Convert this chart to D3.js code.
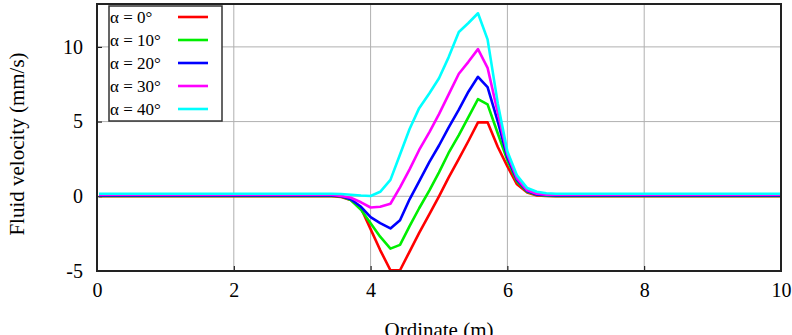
<!DOCTYPE html>
<html><head><meta charset="utf-8">
<script src="https://cdn.jsdelivr.net/npm/d3@7"></script>
<style>
body{margin:0;background:#fff}
svg{display:block}
svg text{font-family:"Liberation Serif","Times New Roman","DejaVu Serif",serif !important;fill:#000}
</style>
</head><body>
<script>
const xs = [0.03, 3.43, 3.57, 3.71, 3.86, 4.0, 4.14, 4.29, 4.43, 4.57, 4.71, 4.86, 5.0, 5.14, 5.29, 5.43, 5.57, 5.71, 5.86, 6.0, 6.14, 6.29, 6.43, 6.57, 6.71, 10.0];
const red     = [0, 0, -0.05, -0.25, -0.8, -2.2, -3.6, -4.95, -4.95, -3.7, -2.45, -1.2, 0.0, 1.25, 2.5, 3.7, 4.95, 4.95, 3.3, 2.0, 0.8, 0.25, 0.06, 0.02, 0, 0];
const green   = [0.03, 0.03, 0.0, -0.25, -0.9, -1.8, -2.7, -3.5, -3.25, -2.0, -0.8, 0.4, 1.6, 2.9, 4.1, 5.3, 6.5, 6.15, 4.2, 2.4, 1.0, 0.3, 0.1, 0.04, 0.03, 0.03];
const blue    = [0.06, 0.06, 0.0, -0.2, -0.7, -1.4, -1.8, -2.15, -1.6, -0.2, 1.0, 2.3, 3.4, 4.6, 5.8, 7.0, 8.0, 7.3, 5.0, 2.6, 1.1, 0.35, 0.12, 0.07, 0.06, 0.06];
const magenta = [0.1, 0.1, 0.02, -0.1, -0.4, -0.75, -0.7, -0.5, 0.6, 1.8, 3.1, 4.3, 5.5, 6.8, 8.2, 9.0, 9.85, 8.6, 5.6, 2.8, 1.2, 0.4, 0.17, 0.11, 0.1, 0.1];
const cyan    = [0.17, 0.17, 0.15, 0.1, 0.05, 0.02, 0.3, 1.1, 2.8, 4.5, 5.9, 6.9, 7.9, 9.3, 11.0, 11.6, 12.25, 10.5, 6.2, 3.0, 1.4, 0.55, 0.3, 0.2, 0.17, 0.17];
const seriesNames = ["α = 0°", "α = 10°", "α = 20°", "α = 30°", "α = 40°"];
const seriesColors = ["#ff0000", "#00ee00", "#0000ff", "#ff00ff", "#00ffff"];
const xTicks = [0, 2, 4, 6, 8, 10];
const yTicks = [-5, 0, 5, 10];
const xTitle = "Ordinate (m)";
const yTitle = "Fluid velocity (mm/s)";

const W = 792, H = 335;
const m = {left: 97, right: 11, top: 4, bottom: 64};
const FONT = "Liberation Serif, Times New Roman, DejaVu Serif, serif";
const svg = d3.select("body").append("svg").attr("width", W).attr("height", H)
  .attr("font-family", FONT);
const x = d3.scaleLinear().domain([0, 10]).range([m.left, W - m.right]);
const y = d3.scaleLinear().domain([-5, 12.87]).range([H - m.bottom, m.top]);

// grid
svg.append("g").selectAll("line").data(xTicks.slice(1, -1)).join("line")
  .attr("x1", d => x(d)).attr("x2", d => x(d)).attr("y1", y.range()[0]).attr("y2", y.range()[1])
  .attr("stroke", "#b0b0b0").attr("stroke-width", 1);
svg.append("g").selectAll("line").data(yTicks.slice(1)).join("line")
  .attr("y1", d => y(d)).attr("y2", d => y(d)).attr("x1", x.range()[0]).attr("x2", x.range()[1])
  .attr("stroke", "#b0b0b0").attr("stroke-width", 1);

// axes (tick labels)
const xa = svg.append("g").attr("transform", `translate(0,${y(-5)})`)
  .call(d3.axisBottom(x).tickValues(xTicks).tickSize(-5).tickPadding(12).tickFormat(d => String(d)));
const ya = svg.append("g").attr("transform", `translate(${m.left},0)`)
  .call(d3.axisLeft(y).tickValues(yTicks).tickSize(-5).tickPadding(14).tickFormat(d => String(d)));
[xa, ya].forEach(g => {
  g.attr("font-family", FONT);
  g.select(".domain").remove();
  g.selectAll("text").attr("font-size", 20).attr("fill", "#000").attr("font-family", FONT);
  g.selectAll(".tick line").attr("stroke", "#000");
});
xa.selectAll("text").attr("dy", "0.71em");

// clip
svg.append("clipPath").attr("id", "clip").append("rect")
  .attr("x", m.left).attr("y", m.top).attr("width", W - m.left - m.right).attr("height", H - m.top - m.bottom);

const all = [red, green, blue, magenta, cyan];
const line = d3.line().x((d, i) => x(xs[i])).y(d => y(d));
svg.append("g").attr("clip-path", "url(#clip)").selectAll("path").data(all).join("path")
  .attr("d", d => line(d)).attr("fill", "none")
  .attr("stroke", (d, i) => seriesColors[i]).attr("stroke-width", 2.6).attr("stroke-linejoin", "round");

// frame
svg.append("rect").attr("x", m.left).attr("y", m.top)
  .attr("width", W - m.left - m.right).attr("height", H - m.top - m.bottom)
  .attr("fill", "none").attr("stroke", "#222").attr("stroke-width", 2);

// legend
const lg = svg.append("g");
lg.append("rect").attr("x", 109).attr("y", 6).attr("width", 113).attr("height", 115)
  .attr("fill", "#fff").attr("stroke", "#333").attr("stroke-width", 1.5);
seriesNames.forEach((n, i) => {
  const cy = 17 + i * 23;
  lg.append("text").attr("x", 110).attr("y", cy + 6).attr("font-size", 17).attr("font-family", FONT).text(n);
  lg.append("line").attr("x1", 178).attr("x2", 208).attr("y1", cy).attr("y2", cy)
    .attr("stroke", seriesColors[i]).attr("stroke-width", 2.6);
});

// titles
svg.append("text").attr("x", x(5)).attr("y", 337).attr("text-anchor", "middle")
  .attr("font-size", 21).attr("font-family", FONT).text(xTitle);
svg.append("text").attr("transform", `translate(24,${y(3.5)}) rotate(-90)`)
  .attr("text-anchor", "middle").attr("font-size", 21).attr("font-family", FONT).text(yTitle);
</script>
</body></html>
